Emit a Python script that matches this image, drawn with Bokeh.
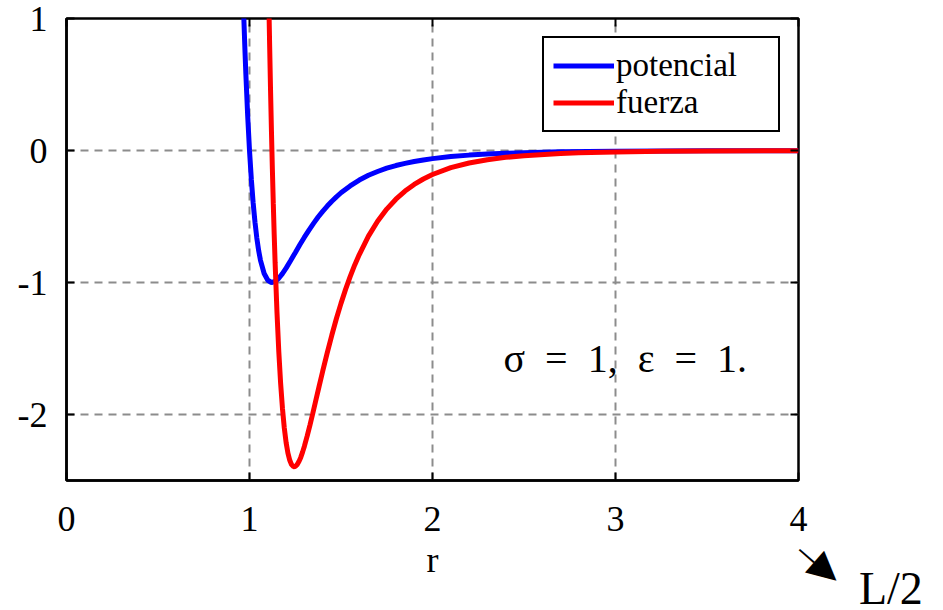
from bokeh.plotting import figure
from bokeh.models import (ColumnDataSource, FixedTicker, LinearAxis, Legend,
                          LegendItem, Label, Range1d)
from bokeh.core.properties import value
from bokeh.embed import file_html
from bokeh.resources import INLINE
import math

# Lennard-Jones curves (sigma = 1, epsilon = 1), sampled values
r_pot = [0.969, 0.975, 0.98, 0.99, 1.00, 1.01, 1.02, 1.03, 1.04, 1.05,
         1.06, 1.08, 1.10, 1.12, 1.14, 1.16, 1.18, 1.20, 1.225, 1.25,
         1.275, 1.30, 1.325, 1.35, 1.375, 1.40, 1.425, 1.45, 1.475, 1.50,
         1.55, 1.60, 1.65, 1.70, 1.75, 1.80, 1.85, 1.90, 1.95, 2.00,
         2.10, 2.20, 2.30, 2.40, 2.50, 2.70, 3.00, 3.50, 4.00]
potencial = [1.005, 0.764, 0.582, 0.264, 0.0, -0.218, -0.398, -0.544, -0.663, -0.758,
             -0.832, -0.932, -0.983, -1.000, -0.992, -0.968, -0.933, -0.891, -0.833, -0.774,
             -0.714, -0.657, -0.603, -0.552, -0.504, -0.461, -0.421, -0.384, -0.351, -0.320,
             -0.268, -0.224, -0.188, -0.159, -0.134, -0.114, -0.0973, -0.0832, -0.0714, -0.0615,
             -0.0461, -0.0350, -0.0268, -0.0208, -0.0163, -0.0103, -0.00548, -0.00218, -0.00098]

r_fue = [1.107, 1.11, 1.115, 1.12, 1.125, 1.13, 1.135, 1.14, 1.15, 1.16,
         1.17, 1.18, 1.19, 1.20, 1.21, 1.22, 1.23, 1.24, 1.25, 1.26,
         1.27, 1.28, 1.29, 1.30, 1.315, 1.33, 1.345, 1.36, 1.38, 1.40,
         1.425, 1.45, 1.475, 1.50, 1.525, 1.55, 1.575, 1.60, 1.65, 1.70,
         1.75, 1.80, 1.85, 1.90, 1.95, 2.00, 2.10, 2.20, 2.30, 2.40,
         2.50, 2.70, 2.80, 3.00, 3.25, 3.50, 4.00]
fuerza = [1.023, 0.801, 0.457, 0.144, -0.142, -0.401, -0.638, -0.852, -1.221, -1.521,
          -1.762, -1.952, -2.100, -2.212, -2.293, -2.347, -2.380, -2.395, -2.394, -2.381,
          -2.357, -2.325, -2.285, -2.240, -2.164, -2.082, -1.996, -1.907, -1.789, -1.672,
          -1.531, -1.398, -1.273, -1.158, -1.052, -0.956, -0.867, -0.788, -0.649, -0.536,
          -0.444, -0.369, -0.307, -0.257, -0.216, -0.182, -0.130, -0.0945, -0.0695, -0.0518,
          -0.0390, -0.0228, -0.0177, -0.01094, -0.00626, -0.00373, -0.00146]

x_ticks = [0, 1, 2, 3, 4]
y_ticks = [-2, -1, 0, 1]
y_tick_labels = {-2: "-2", -1: "-1", 0: "0", 1: "1"}

FONT = "Liberation Serif"

p = figure(width=943, height=610, output_backend="svg", toolbar_location=None,
           x_range=Range1d(0, 4), y_range=Range1d(-2.5, 1),
           min_border_left=66, min_border_right=145,
           min_border_top=18, min_border_bottom=130,
           x_axis_label="r")
p.background_fill_color = "white"
p.border_fill_color = "white"
p.outline_line_color = "black"
p.outline_line_width = 2.5
p.outline_line_alpha = 1.0

for ax in (p.xaxis[0], p.yaxis[0]):
    ax.axis_line_color = "black"
    ax.axis_line_width = 2.5
    ax.major_tick_in = 8
    ax.major_tick_out = 0
    ax.major_tick_line_width = 2
    ax.minor_tick_line_color = None
    ax.major_label_text_font = FONT
    ax.major_label_text_font_size = "36px"
    ax.major_label_text_color = "black"
    ax.axis_label_text_font = FONT
    ax.axis_label_text_font_style = "normal"
    ax.axis_label_text_font_size = "36px"
    ax.axis_label_text_color = "black"
p.xaxis[0].ticker = FixedTicker(ticks=x_ticks)
p.yaxis[0].ticker = FixedTicker(ticks=y_ticks)
p.yaxis[0].major_label_overrides = y_tick_labels
p.xaxis[0].major_label_standoff = 26
p.yaxis[0].major_label_standoff = 19
p.xaxis[0].axis_label_standoff = 6

# tick marks on the top and right edges of the box
top = LinearAxis(ticker=FixedTicker(ticks=x_ticks),
                 major_label_overrides={t: "" for t in x_ticks})
right = LinearAxis(ticker=FixedTicker(ticks=y_ticks),
                   major_label_overrides={t: "" for t in y_ticks})
for ax in (top, right):
    ax.axis_line_alpha = 0
    ax.major_tick_in = 8
    ax.major_tick_out = 0
    ax.major_tick_line_width = 2
    ax.minor_tick_line_color = None
    ax.major_label_standoff = 0
p.add_layout(top, "above")
p.add_layout(right, "right")

for g in (p.xgrid[0], p.ygrid[0]):
    g.grid_line_color = "#8c8c8c"
    g.grid_line_width = 2
    g.grid_line_dash = "8 6"
p.xgrid[0].ticker = FixedTicker(ticks=[1, 2, 3])
p.ygrid[0].ticker = FixedTicker(ticks=[-2, -1, 0])

src_p = ColumnDataSource(dict(r=r_pot, v=potencial))
src_f = ColumnDataSource(dict(r=r_fue, v=fuerza))
lp = p.line("r", "v", source=src_p, line_color="#0000ff", line_width=5)
lf = p.line("r", "v", source=src_f, line_color="#ff0000", line_width=5)

legend = Legend(items=[LegendItem(label="potencial", renderers=[lp]),
                       LegendItem(label="fuerza", renderers=[lf])],
                location="top_right")
legend.margin = 18
legend.border_line_color = "black"
legend.border_line_width = 2.5
legend.border_line_alpha = 1.0
legend.background_fill_alpha = 1.0
legend.label_text_font = FONT
legend.label_text_font_size = "33px"
legend.label_text_color = "black"
legend.glyph_width = 61
legend.glyph_height = 35
legend.label_height = 35
legend.label_width = 153
legend.label_standoff = 2
legend.spacing = 0
legend.padding = 9
p.add_layout(legend, "center")

p.add_layout(Label(x=2.388, y=-1.576, text="σ\u2002=\u20021,\u2002ε\u2002=\u20021.",
                   text_font=FONT, text_font_size="40px",
                   text_color="black", text_baseline="middle"))

# pointer toward L/2, drawn outside the frame: thin shaft + filled head
p.add_layout(Label(x=4.12, y=-3.121, text="\u2013\u25B6",
                   text_font="'Liberation Serif', 'DejaVu Sans'",
                   text_font_size="38px", text_color="black",
                   text_align="center", text_baseline="middle",
                   angle=-math.radians(41)), "right")
p.add_layout(Label(x=4.33, y=-3.318, text="L/2", text_font=FONT,
                   text_font_size="46px", text_color="black",
                   text_baseline="middle"), "right")

open("out.html", "w").write(file_html(p, INLINE))
